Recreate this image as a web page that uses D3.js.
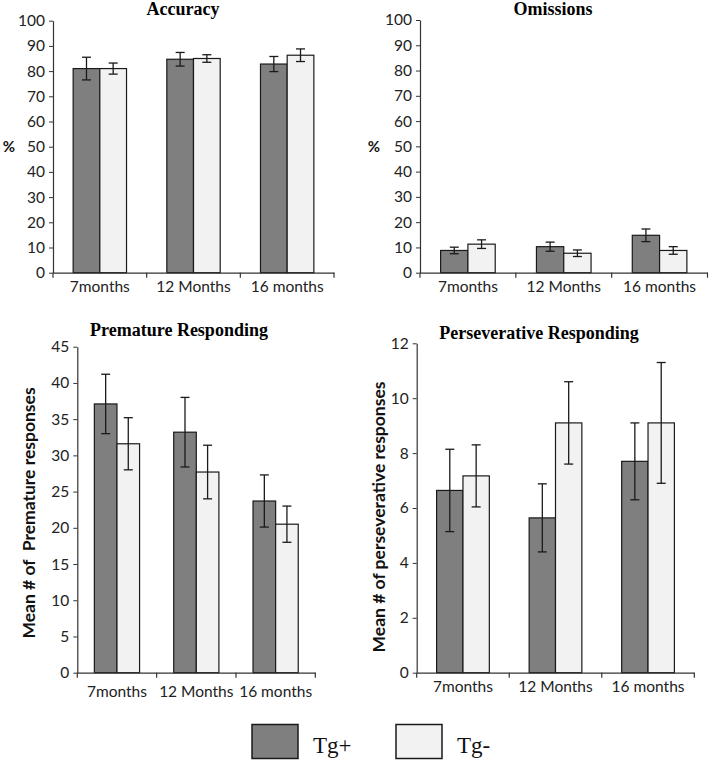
<!DOCTYPE html>
<html><head><meta charset="utf-8">
<script src="https://cdn.jsdelivr.net/npm/d3@7"></script>
<style>body{margin:0;background:#fff}svg{display:block}</style>
</head><body>
<svg id="chart" width="709" height="760"></svg>
<script>
const categories = ["7months", "12 Months", "16 months"];
const seriesNames = ["Tg+", "Tg-"];

const accuracyTgPlus = [81.0, 84.7, 82.8];
const accuracyTgPlusErr = [4.5, 2.7, 3.0];
const accuracyTgMinus = [81.0, 85.0, 86.3];
const accuracyTgMinusErr = [2.2, 1.5, 2.5];

const omissionsTgPlus = [8.8, 10.3, 14.8];
const omissionsTgPlusErr = [1.3, 1.8, 2.5];
const omissionsTgMinus = [11.3, 7.7, 8.8];
const omissionsTgMinusErr = [1.7, 1.3, 1.5];

const prematureTgPlus = [37.1, 33.2, 23.7];
const prematureTgPlusErr = [4.1, 4.8, 3.6];
const prematureTgMinus = [31.6, 27.7, 20.5];
const prematureTgMinusErr = [3.6, 3.7, 2.5];

const persevTgPlus = [6.64, 5.64, 7.7];
const persevTgPlusErr = [1.5, 1.24, 1.4];
const persevTgMinus = [7.17, 9.1, 9.1];
const persevTgMinusErr = [1.13, 1.5, 2.2];

const pctTicks = [0, 10, 20, 30, 40, 50, 60, 70, 80, 90, 100];
const prematureTicks = [0, 5, 10, 15, 20, 25, 30, 35, 40, 45];
const persevTicks = [0, 2, 4, 6, 8, 10, 12];

const colors = ["#7f7f7f", "#f2f2f2"];
const svg = d3.select("#chart");
const tickFont = "Lato, 'Open Sans', sans-serif";

function panel(opt) {
  const g = svg.append("g");
  const x = d3.scaleBand().domain(categories).range([opt.x0, opt.x1]).padding(0);
  const y = d3.scaleLinear().domain([0, opt.max]).range([opt.yb, opt.yt]);
  const inner = d3.scaleBand().domain(seriesNames)
    .range([0, x.bandwidth()]).paddingOuter(0.755).paddingInner(0);

  const rows = [];
  categories.forEach((c, i) => {
    rows.push({c, s: "Tg+", v: opt.a[i], e: opt.ae[i], col: colors[0]});
    rows.push({c, s: "Tg-", v: opt.b[i], e: opt.be[i], col: colors[1]});
  });

  g.selectAll("rect.bar").data(rows).join("rect")
    .attr("x", d => x(d.c) + inner(d.s))
    .attr("y", d => y(d.v))
    .attr("width", inner.bandwidth())
    .attr("height", d => y(0) - y(d.v))
    .attr("fill", d => d.col)
    .attr("stroke", "#1a1a1a").attr("stroke-width", 1.2);

  const cap = 4.5;
  rows.forEach(d => {
    const cx = x(d.c) + inner(d.s) + inner.bandwidth() / 2;
    const t = y(d.v + d.e), b = y(d.v - d.e);
    g.append("line").attr("x1", cx).attr("x2", cx).attr("y1", t).attr("y2", b)
      .attr("stroke", "#1a1a1a").attr("stroke-width", 1.3);
    [t, b].forEach(yy => g.append("line").attr("x1", cx - cap).attr("x2", cx + cap)
      .attr("y1", yy).attr("y2", yy).attr("stroke", "#1a1a1a").attr("stroke-width", 1.3));
  });

  // y axis
  const ya = g.append("g").attr("transform", `translate(${opt.x0},0)`)
    .call(d3.axisLeft(y).tickValues(opt.ticks).tickSize(4).tickPadding(4).tickSizeOuter(0));
  ya.select(".domain").attr("stroke", "#333").attr("stroke-width", 1.2);
  ya.selectAll(".tick line").attr("stroke", "#333");
  ya.selectAll("text").attr("font-family", tickFont).attr("font-size", 15.5).attr("fill", "#222");

  // x axis
  const xa = g.append("g").attr("transform", `translate(0,${opt.yb})`)
    .call(d3.axisBottom(x).tickSize(0).tickPadding(opt.xpad).tickSizeOuter(0));
  xa.select(".domain").attr("stroke", "#333").attr("stroke-width", 1.2);
  xa.selectAll("text").attr("font-family", tickFont).attr("font-size", 15.5).attr("fill", "#222");
  const bounds = [opt.x0, ...categories.slice(1).map(c => x(c)), opt.x1];
  bounds.forEach(bx => g.append("line").attr("x1", bx).attr("x2", bx)
    .attr("y1", opt.yb).attr("y2", opt.yb + 5).attr("stroke", "#333").attr("stroke-width", 1.2));

  g.append("text").attr("x", opt.tx).attr("y", opt.ty).attr("text-anchor", "middle")
    .attr("font-family", "'Liberation Serif', 'Times New Roman', serif")
    .attr("font-weight", "bold").attr("font-size", 18).text(opt.title);

  if (opt.rot) {
    g.append("text").attr("transform", `translate(${opt.lx},${opt.ly}) rotate(-90)`)
      .attr("text-anchor", "middle").attr("font-family", tickFont)
      .attr("font-weight", "bold").attr("font-size", 17.5).attr("fill", "#111")
      .attr("xml:space", "preserve").text(opt.ylabel);
  } else {
    g.append("text").attr("x", opt.lx).attr("y", opt.ly).attr("text-anchor", "middle")
      .attr("font-family", tickFont).attr("font-weight", "bold").attr("font-size", 15)
      .attr("fill", "#111").text(opt.ylabel);
  }
}

panel({x0: 53, x1: 334, yt: 20.7, yb: 272.7, max: 100, ticks: pctTicks,
  a: accuracyTgPlus, ae: accuracyTgPlusErr, b: accuracyTgMinus, be: accuracyTgMinusErr,
  title: "Accuracy", tx: 183, ty: 15, ylabel: "%", lx: 9, ly: 152, rot: false, xpad: 8});

panel({x0: 420, x1: 707.5, yt: 20, yb: 272.7, max: 100, ticks: pctTicks,
  a: omissionsTgPlus, ae: omissionsTgPlusErr, b: omissionsTgMinus, be: omissionsTgMinusErr,
  title: "Omissions", tx: 553, ty: 15, ylabel: "%", lx: 374, ly: 152, rot: false, xpad: 8});

panel({x0: 77.3, x1: 315.3, yt: 346.7, yb: 672.7, max: 45, ticks: prematureTicks,
  a: prematureTgPlus, ae: prematureTgPlusErr, b: prematureTgMinus, be: prematureTgMinusErr,
  title: "Premature Responding", tx: 179, ty: 336, ylabel: "Mean # of  Premature responses",
  lx: 35, ly: 513, rot: true, xpad: 13});

panel({x0: 416.7, x1: 694.3, yt: 343.3, yb: 672.7, max: 12, ticks: persevTicks,
  a: persevTgPlus, ae: persevTgPlusErr, b: persevTgMinus, be: persevTgMinusErr,
  title: "Perseverative Responding", tx: 539, ty: 339, ylabel: "Mean # of perseverative responses",
  lx: 385, ly: 517, rot: true, xpad: 8});

// legend
const leg = svg.append("g");
const legX = [252, 396];
seriesNames.forEach((s, i) => {
  leg.append("rect").attr("x", legX[i]).attr("y", 724.5).attr("width", 46).attr("height", 34)
    .attr("fill", colors[i]).attr("stroke", "#1a1a1a").attr("stroke-width", 1.5);
  leg.append("text").attr("x", legX[i] + 61).attr("y", 753)
    .attr("font-family", "'Liberation Serif', 'Times New Roman', serif")
    .attr("font-size", 23).attr("fill", "#111").text(s);
});
</script>
</body></html>
